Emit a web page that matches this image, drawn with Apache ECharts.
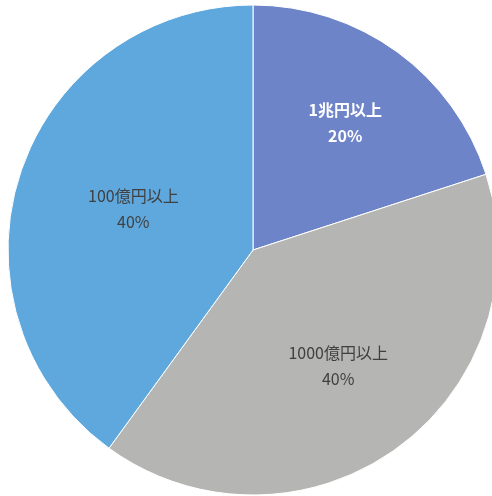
<!DOCTYPE html>
<html><head><meta charset="utf-8">
<script src="https://cdn.jsdelivr.net/npm/echarts@6/dist/echarts.min.js"></script>
<style>html,body{margin:0;padding:0;background:#fff;}#c{width:492px;height:496px;}</style>
</head><body><div id="c"></div>
<script>
const categories = ['1兆円以上', '1000億円以上', '100億円以上'];
const values = [20, 40, 40];
const colors = ['#6e84c8', '#b5b5b3', '#5ea8dd'];
const labelColors = ['#ffffff', '#404040', '#404040'];
const labelPads = [[0, 0, 0, 8], [0, 6, 0, 0], [0, 0, 0, 46]];
// vertical nudge: positive = spacer below (moves text up), negative = spacer above (moves text down)
const labelNudge = [12, 10, -10];

const chart = echarts.init(document.getElementById('c'));
const R = 245;
chart.setOption({
  animation: false,
  series: [
    {
      type: 'pie',
      center: [253, 250],
      radius: [0, R],
      startAngle: 90,
      clockwise: true,
      silent: true,
      label: { show: false },
      labelLine: { show: false },
      itemStyle: { borderColor: '#ffffff', borderWidth: 1 },
      data: categories.map((n, i) => ({ name: n, value: values[i], itemStyle: { color: colors[i] } }))
    },
    {
      type: 'pie',
      center: [253, 250],
      radius: [0, R * 1.2],
      startAngle: 90,
      clockwise: true,
      silent: true,
      itemStyle: { color: 'rgba(0,0,0,0)' },
      labelLine: { show: false },
      label: {
        show: true,
        position: 'inside',
        formatter: p => {
          const n = labelNudge[p.dataIndex];
          const txt = '{t|' + p.name + '}\n{t|' + p.value + '%}';
          return n > 0 ? txt + '\n{s| }' : '{s| }\n' + txt;
        },
        align: 'center',
        verticalAlign: 'middle'
      },
      data: categories.map((n, i) => ({
        name: n, value: values[i],
        label: {
          padding: labelPads[i],
          rich: {
            t: {
              color: labelColors[i], fontWeight: i === 0 ? 'bold' : 'normal',
              fontFamily: 'Noto Sans CJK JP', fontSize: 16, lineHeight: 26
            },
            s: { fontSize: 2, lineHeight: Math.abs(labelNudge[i]) }
          }
        }
      }))
    }
  ]
});
</script></body></html>
